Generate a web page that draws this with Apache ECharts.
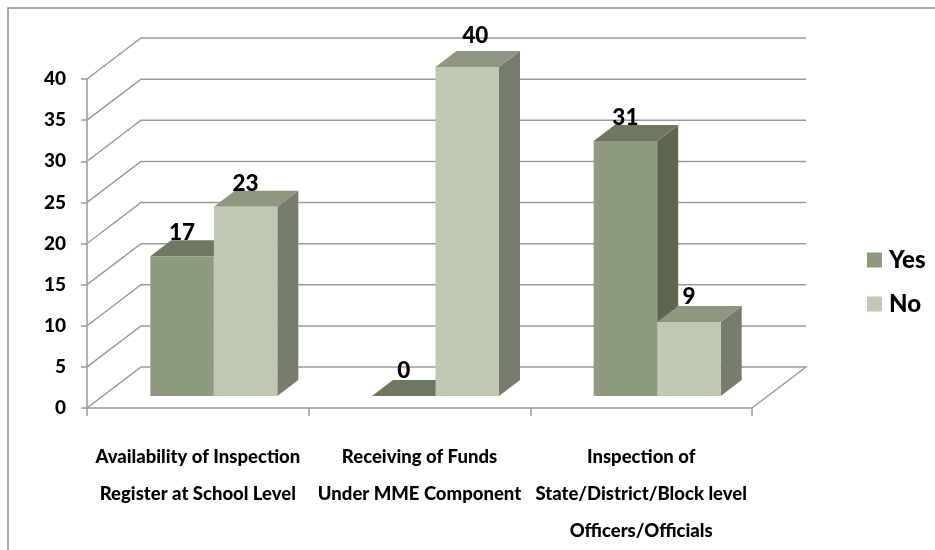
<!DOCTYPE html>
<html>
<head>
<meta charset="utf-8">
<style>html,body{margin:0;padding:0;background:#fff}#c{width:935px;height:550px}</style>
<script src="https://cdn.jsdelivr.net/npm/echarts@6/dist/echarts.min.js"></script>
</head>
<body>
<div id="c"></div>
<script>
var categories = ['Availability of Inspection\nRegister at School Level', 'Receiving of Funds\nUnder MME Component', 'Inspection of\nState/District/Block level\nOfficers/Officials'];
var yesValues = [17, 0, 31];
var noValues = [23, 40, 9];
var valueTicks = [0, 5, 10, 15, 20, 25, 30, 35, 40];

var FONT = 'Lato, "Open Sans", sans-serif';
var WEIGHT = 900;
var WALL = [54, -41], BAR_DEPTH = [21, -16], BAR_SHIFT = [16, -12], BAR_FRAC = 0.2865;
var LINE = '#9a9a9a';
var YES = { front: '#8f9b7e', top: '#6e775f', side: '#5e664f' };
var NO = { front: '#bec8b3', top: '#8f9681', side: '#777d6d' };
// hand-placed label nudges seen in the reference: [series, category] -> [dx, dy]
var labelNudge = { 'no1': [8, -8], 'yes1': [0, -2], 'no2': [0, -2] };

function poly(points, fill, z2) {
  return { type: 'polygon', shape: { points: points }, style: { fill: fill }, z2: z2 || 0 };
}

function barRenderer(colors, side, key) {
  return function (params, api) {
    var i = api.value(0), v = api.value(1);
    var band = api.size([1, 0])[0], w = band * BAR_FRAC;
    var base = api.coord([i, 0]), topP = api.coord([i, v]);
    var x0 = base[0] + BAR_SHIFT[0] + (side < 0 ? -w : 0), x1 = x0 + w;
    var yb = base[1] + BAR_SHIFT[1], yt = topP[1] + BAR_SHIFT[1];
    var dx = BAR_DEPTH[0], dy = BAR_DEPTH[1];
    var nudge = labelNudge[key + i] || [0, 0];
    return {
      type: 'group',
      children: [
        poly([[x1, yb], [x1 + dx, yb + dy], [x1 + dx, yt + dy], [x1, yt]], colors.side),
        poly([[x0, yt], [x1, yt], [x1 + dx, yt + dy], [x0 + dx, yt + dy]], colors.top),
        poly([[x0, yb], [x1, yb], [x1, yt], [x0, yt]], colors.front),
        { type: 'text', z2: 20, style: {
            x: (x0 + x1) / 2 + nudge[0], y: yt - 23 + nudge[1], text: String(v),
            fill: '#000', font: WEIGHT + ' 22.5px ' + FONT, align: 'center', verticalAlign: 'middle' } }
      ]
    };
  };
}

function wallRenderer(params, api) {
  var cs = params.coordSys, v = api.value(1);
  var y = api.coord([0, v])[1];
  var l = cs.x, r = cs.x + cs.width;
  var lineStyle = { stroke: LINE, lineWidth: 1.5, fill: null };
  var pts = [[l, y], [l + WALL[0], y + WALL[1]], [r + WALL[0], y + WALL[1]]];
  if (v === valueTicks[0]) { pts.push([r, y]); }
  return { type: 'polyline', shape: { points: pts }, style: lineStyle };
}

var chart = echarts.init(document.getElementById('c'));
chart.setOption({
  animation: false,
  backgroundColor: '#fff',
  graphic: [{ type: 'polyline', shape: { points: [[8, 550], [8, 8], [935, 8]] }, style: { stroke: '#8c8c8c', lineWidth: 1.5, fill: null } }],
  grid: { left: 87, right: 183, top: 79, bottom: 142 },
  legend: {
    data: [{ name: 'Yes', icon: 'rect' }, { name: 'No', icon: 'rect' }],
    orient: 'vertical', left: 862, top: 243, itemWidth: 15, itemHeight: 15, itemGap: 20,
    textStyle: { fontFamily: FONT, fontWeight: WEIGHT, fontSize: 24, color: '#000', padding: [0, 0, 0, 2] }
  },
  xAxis: {
    type: 'category', data: categories, boundaryGap: true,
    axisLine: { lineStyle: { color: LINE, width: 1.5 } },
    axisTick: { show: true, length: 8, alignWithLabel: false, lineStyle: { color: LINE, width: 1.5 } },
    axisLabel: { interval: 0, margin: 31, color: '#000', fontFamily: FONT, fontWeight: WEIGHT, fontSize: 18.5, lineHeight: 37, verticalAlign: 'top' }
  },
  yAxis: {
    type: 'value', min: 0, max: 40, interval: 5,
    splitLine: { show: false },
    axisLine: { show: true, lineStyle: { color: LINE, width: 1.5 } },
    axisTick: { show: true, length: 6, lineStyle: { color: LINE, width: 1.5 } },
    axisLabel: { margin: 21, color: '#000', fontFamily: FONT, fontWeight: WEIGHT, fontSize: 19 }
  },
  series: [
    { name: 'Walls', type: 'custom', z: 1, silent: true, clip: false, renderItem: wallRenderer,
      data: valueTicks.map(function (v) { return [0, v]; }), encode: { x: 0, y: 1 } },
    { name: 'Yes', type: 'custom', z: 2, clip: false, silent: true, itemStyle: { color: YES.front }, renderItem: barRenderer(YES, -1, 'yes'),
      data: yesValues.map(function (v, i) { return [i, v]; }), encode: { x: 0, y: 1 } },
    { name: 'No', type: 'custom', z: 2, clip: false, silent: true, itemStyle: { color: NO.front }, renderItem: barRenderer(NO, 1, 'no'),
      data: noValues.map(function (v, i) { return [i, v]; }), encode: { x: 0, y: 1 } }
  ]
});
</script>
</body>
</html>
